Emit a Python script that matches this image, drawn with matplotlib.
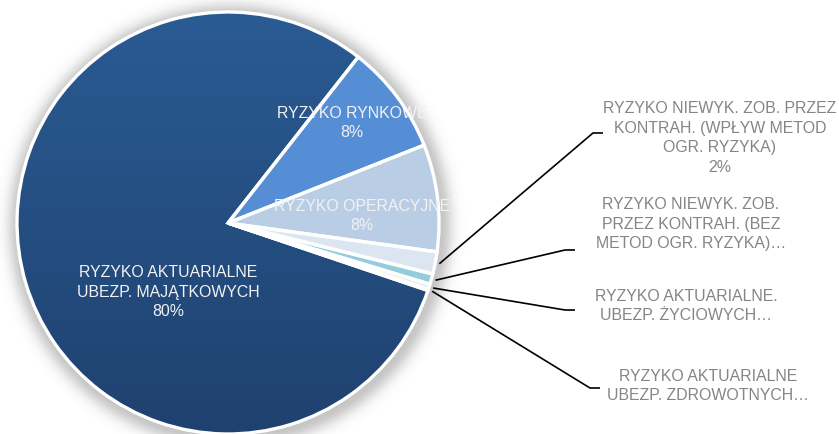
import numpy as np
import matplotlib
matplotlib.use("Agg")
import matplotlib.pyplot as plt
from matplotlib.patches import Wedge

plt.rcParams['font.family'] = ['Liberation Sans', 'DejaVu Sans']

# data (share of total risk, %)
categories = [
    "RYZYKO RYNKOWE",
    "RYZYKO OPERACYJNE",
    "RYZYKO NIEWYK. ZOB. PRZEZ\nKONTRAH. (WPŁYW METOD\nOGR. RYZYKA)",
    "RYZYKO NIEWYK. ZOB.\nPRZEZ KONTRAH. (BEZ\nMETOD OGR. RYZYKA)…",
    "RYZYKO AKTUARIALNE.\nUBEZP. ŻYCIOWYCH…",
    "RYZYKO AKTUARIALNE\nUBEZP. ZDROWOTNYCH…",
    "RYZYKO AKTUARIALNE\nUBEZP. MAJĄTKOWYCH",
]
values = [8.4, 8.2, 1.7, 0.8, 0.4, 0.1, 80.4]
show_pct = [True, True, True, False, False, False, True]

colors = ["#558ed5", "#b9cde5", "#dce6f2", "#93cddd", "#dbeef4", "#c6d9f1", "#254f82"]

W, H = 839, 434
fig = plt.figure(figsize=(W / 100, H / 100), dpi=100)
ax = fig.add_axes([0, 0, 1, 1])

cx, cy, R = 228, H - 223, 211

# soft shadow behind the pie
X, Y = np.meshgrid(np.arange(W) + 0.5, np.arange(H) + 0.5)
d = np.sqrt((X - cx - 2) ** 2 + (Y - cy + 3) ** 2) - R
alpha = 0.4 * np.exp(-(np.clip(d, 0, None) / 12.0) ** 2)
shadow = np.zeros((H, W, 4))
shadow[..., :3] = 0.45
shadow[..., 3] = alpha
ax.imshow(shadow, extent=(0, W, 0, H), origin='lower', zorder=0, interpolation='bilinear')

wedges, _ = ax.pie(values, colors=colors, startangle=51.9, counterclock=False,
                   radius=R, center=(cx, cy), frame=True,
                   wedgeprops=dict(edgecolor='white', linewidth=0))
for w in wedges:
    w.set_zorder(1)

# vertical gradient on the big slice
big = wedges[-1]
grad = np.linspace(0, 1, 256).reshape(-1, 1)
top = np.array(matplotlib.colors.to_rgb("#2a5b93"))
bot = np.array(matplotlib.colors.to_rgb("#1f416f"))
img = bot + (top - bot) * grad
img = np.repeat(img[:, None, :], 2, axis=1).reshape(256, 2, 3)
im = ax.imshow(img, extent=(cx - R, cx + R, cy - R, cy + R), origin='lower',
               zorder=1.5, aspect='auto', interpolation='bilinear')
im.set_clip_path(big)

# white outlines on top
for w in wedges:
    ax.add_patch(Wedge((cx, cy), R, w.theta1, w.theta2, facecolor='none',
                       edgecolor='white', linewidth=2.4, zorder=3))

# inside labels
inside = {0: (352, 123), 1: (362, 216), 6: (168, 292)}
for i, (px, py) in inside.items():
    txt = categories[i] + "\n" + f"{values[i]:.0f}%"
    ax.text(px, H - py, txt, ha='center', va='center', color='#f2f2f2',
            fontsize=11.4, linespacing=1.4, zorder=4)

# outside labels with leader lines
outside = {
    2: ((720, 138), (593, 133), (603, 133)),
    3: ((691, 224), (565, 250), (575, 250)),
    4: ((686, 306), (565, 310), (575, 310)),
    5: ((708, 386), (590, 388), (600, 388)),
}
for i, ((tx, ty), (ex, ey), (hx, hy)) in outside.items():
    w = wedges[i]
    mid = np.deg2rad((w.theta1 + w.theta2) / 2)
    sx, sy = cx + 1.02 * R * np.cos(mid), cy + 1.02 * R * np.sin(mid)
    ax.plot([sx, ex, hx], [sy, H - ey, H - hy], color='black', lw=1.2,
            zorder=4, solid_capstyle='butt')
    txt = categories[i]
    if show_pct[i]:
        txt += "\n" + f"{values[i]:.0f}%"
    ax.text(tx, H - ty, txt, ha='center', va='center', color='#858585',
            fontsize=11.4, linespacing=1.4, zorder=4)

ax.set_xlim(0, W)
ax.set_ylim(0, H)
ax.set_aspect('equal')
ax.axis('off')

fig.savefig("out.png", dpi=100, facecolor='white')
